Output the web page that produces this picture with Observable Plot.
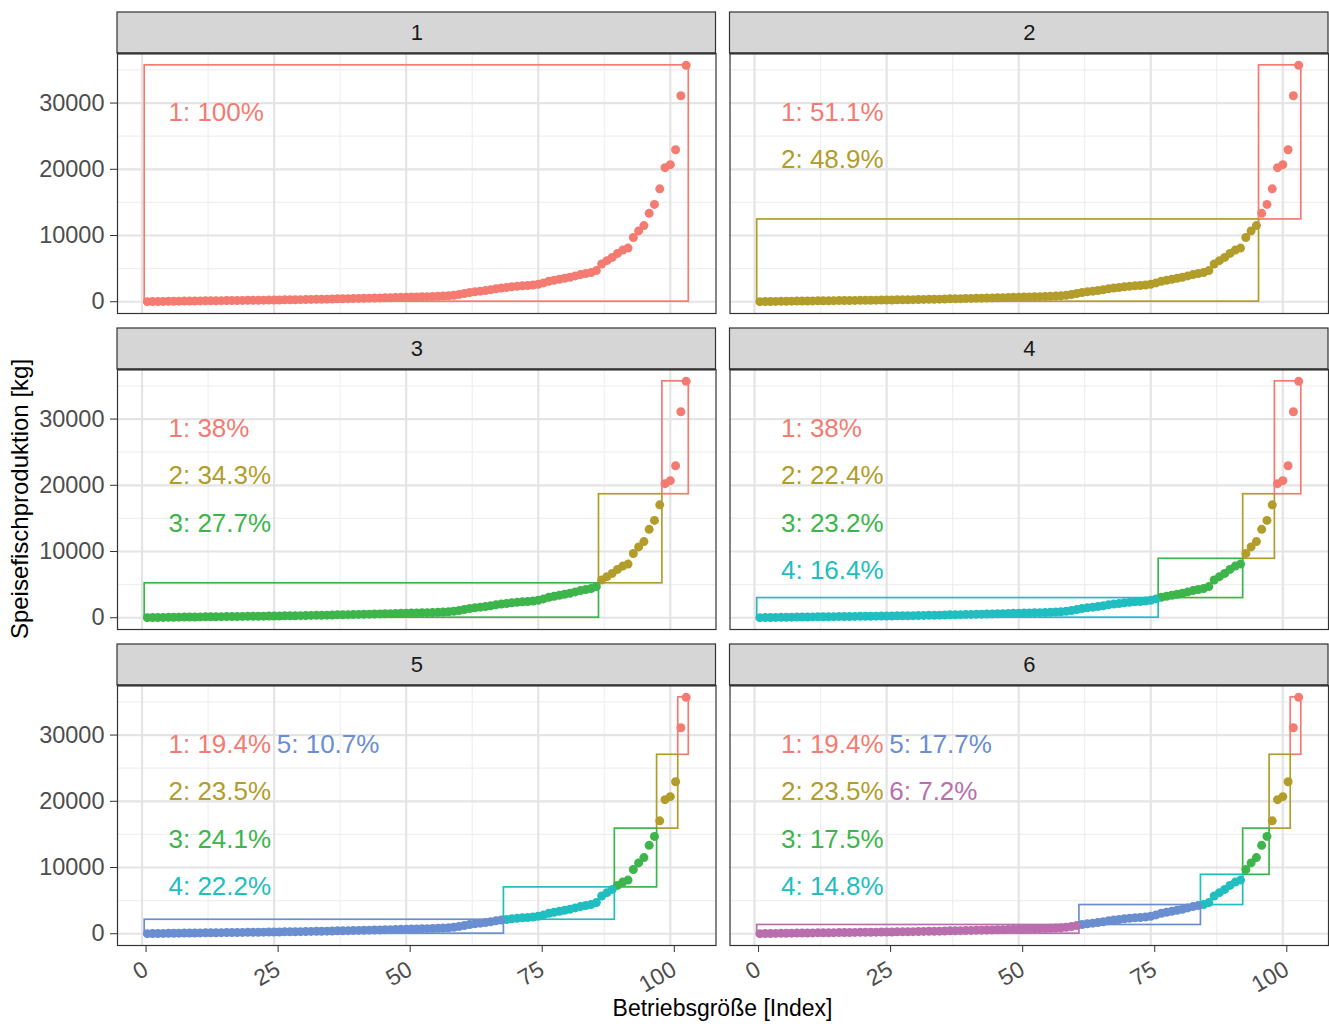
<!DOCTYPE html>
<html><head><meta charset="utf-8">
<script src="https://cdn.jsdelivr.net/npm/d3@7"></script>
<script src="https://cdn.jsdelivr.net/npm/@observablehq/plot@0.6"></script>
<style>
body{margin:0;background:#fff;}
#wrap{position:relative;width:1329px;height:1024px;font-family:"Liberation Sans",Arial,sans-serif;overflow:hidden;}
#wrap svg{position:absolute;left:0;top:0;}
.xtitle{position:absolute;left:117px;width:1211px;top:997px;text-align:center;font-size:23px;line-height:23px;color:#000;}
.ytitle{position:absolute;left:20px;top:499px;transform:translate(-50%,-50%) rotate(-90deg);white-space:nowrap;font-size:24px;line-height:24px;color:#000;}
</style></head><body><div id="wrap"></div>
<script>
// Speisefischproduktion [kg], Betriebe sortiert nach Größe (Index 1..103)
const production = [
  10,30,45,55,65,75,85,95,105,115,125,135,145,
  150,160,170,180,190,200,210,220,230,240,250,260,270,
  285,300,310,320,335,350,360,375,390,
  420,440,455,470,490,505,520,540,560,580,600,620,640,665,690,710,730,750,770,
  790,820,860,910,980,1100,1250,
  1400,1500,1600,1700,1800,1950,2080,
  2150,2250,2330,2400,2460,2530,2640,2840,
  3100,3250,3400,3550,3700,3900,4100,4270,
  4400,4700,5700,6200,6700,7300,7800,8100,
  9700,10700,11500,13350,14700,
  17050,20250,20700,22950,
  31100,35700
];
// panel k = number of clusters; first index of cluster 1, 2, ... (cluster 1 = largest farms)
const panels = [1, 2, 3, 4, 5, 6];
const clusterStarts = [[1],[96,1],[99,87,1],[99,93,77,1],[102,98,90,69,1],[102,98,93,85,62,1]];
const clusterShares = [[100],[51.1,48.9],[38,34.3,27.7],[38,22.4,23.2,16.4],[19.4,23.5,24.1,22.2,10.7],[19.4,23.5,17.5,14.8,17.7,7.2]];
const clusterIds = [1, 2, 3, 4, 5, 6];
const clusterColors = ["#F47B71", "#B29D2B", "#3CB54B", "#21BEC0", "#6A8ED0", "#B96EAD"];
const xTicks = [0, 25, 50, 75, 100];
const xMinor = [12.5, 37.5, 62.5, 87.5];
const yTicks = [0, 10000, 20000, 30000];
const yMinor = [5000, 15000, 25000, 35000];
const labelColumnX = [5, 25.5];
const labelRowFrac = [0.8, 0.6, 0.4, 0.2];

const n = production.length;
const vMin = d3.min(production), vMax = d3.max(production);
const xDomain = [0.5 - 0.05 * n, n + 0.5 + 0.05 * n];
const yPad = 0.05 * (vMax - vMin);
const yDomain = [vMin - yPad, vMax + yPad];
const ySpan = yDomain[1] - yDomain[0];
const panelH = 260, stripH = 41;

const points = [], boxes = [], labels = [], strips = [];
panels.forEach((k, p) => {
  const fx = p % 2, fy = Math.floor(p / 2);
  const starts = clusterStarts[p];
  const ranges = starts.map((s, c) => ({c: c + 1, start: s, end: c === 0 ? n : starts[c - 1] - 1}));
  ranges.forEach(r => {
    for (let i = r.start; i <= r.end; i++) points.push({fx, fy, i, v: production[i - 1], c: r.c});
    const lo = r.start === 1 ? vMin : (production[r.start - 2] + production[r.start - 1]) / 2;
    const hi = r.end === n ? vMax : (production[r.end - 1] + production[r.end]) / 2;
    boxes.push({fx, fy, c: r.c, x1: r.start - 0.5, x2: r.end + 0.5, y1: lo, y2: hi});
    const col = r.c <= 4 ? 0 : 1, row = r.c <= 4 ? r.c - 1 : r.c - 5;
    labels.push({fx, fy, c: r.c, x: labelColumnX[col], y: vMax * labelRowFrac[row], text: `${r.c}: ${clusterShares[p][r.c - 1]}%`});
  });
  strips.push({fx, fy, k, x1: xDomain[0], x2: xDomain[1], y1: yDomain[1], y2: yDomain[1] + ySpan * stripH / panelH,
    xm: (xDomain[0] + xDomain[1]) / 2, ym: yDomain[1] + ySpan * (stripH / 2) / panelH});
});

const chart = Plot.plot({
  width: 1329, height: 1024,
  marginLeft: 117, marginRight: 1, marginTop: 53, marginBottom: 79,
  style: {fontFamily: "'Liberation Sans', Arial, sans-serif", fontSize: "22px", background: "white", overflow: "visible"},
  fx: {domain: [0, 1], paddingInner: 14 / 612.5, paddingOuter: 0, round: false, axis: null},
  fy: {domain: [0, 1, 2], paddingInner: 56 / 316, paddingOuter: 0, round: false, axis: null},
  x: {domain: xDomain},
  y: {domain: yDomain},
  color: {domain: clusterIds, range: clusterColors},
  marks: [
    Plot.gridX(xMinor, {stroke: "#EFEFEF", strokeOpacity: 1, strokeWidth: 1.2}),
    Plot.gridY(yMinor, {stroke: "#EFEFEF", strokeOpacity: 1, strokeWidth: 1.2}),
    Plot.gridX(xTicks, {stroke: "#E4E4E4", strokeOpacity: 1, strokeWidth: 2.2}),
    Plot.gridY(yTicks, {stroke: "#E4E4E4", strokeOpacity: 1, strokeWidth: 2.2}),
    Plot.dot(points, {x: "i", y: "v", fx: "fx", fy: "fy", r: 4.5, fill: "c", stroke: null}),
    Plot.rect(boxes, {x1: "x1", x2: "x2", y1: "y1", y2: "y2", fx: "fx", fy: "fy", fill: "none", stroke: "c", strokeWidth: 1.7}),
    Plot.text(labels, {x: "x", y: "y", fx: "fx", fy: "fy", text: "text", fill: "c", textAnchor: "start", fontSize: 26}),
    Plot.frame({stroke: "#333333", strokeWidth: 1.2}),
    Plot.rect(strips, {x1: "x1", x2: "x2", y1: "y1", y2: "y2", fx: "fx", fy: "fy", fill: "#D6D6D6", stroke: "#333333", strokeWidth: 1.2}),
    Plot.ruleY(strips, {y: "y1", x1: "x1", x2: "x2", fx: "fx", fy: "fy", stroke: "#333333", strokeWidth: 2}),
    Plot.text(strips, {x: "xm", y: "ym", fx: "fx", fy: "fy", text: d => String(d.k), fill: "#1A1A1A", fontSize: 22}),
    Plot.axisY({ticks: yTicks, tickFormat: d => String(d), tickSize: 7, tickPadding: 6, stroke: "#333333", fill: "#4D4D4D", fontSize: 23.5, label: null}),
    Plot.axisX({ticks: xTicks, tickFormat: d => String(d), tickSize: 7, tickPadding: 15, dx: 4, tickRotate: -30, stroke: "#333333", fill: "#4D4D4D", fontSize: 23, label: null})
  ]
});

const wrap = document.getElementById("wrap");
wrap.appendChild(chart);
const xt = document.createElement("div"); xt.className = "xtitle"; xt.textContent = "Betriebsgröße [Index]"; wrap.appendChild(xt);
const yt = document.createElement("div"); yt.className = "ytitle"; yt.textContent = "Speisefischproduktion [kg]"; wrap.appendChild(yt);
</script></body></html>
